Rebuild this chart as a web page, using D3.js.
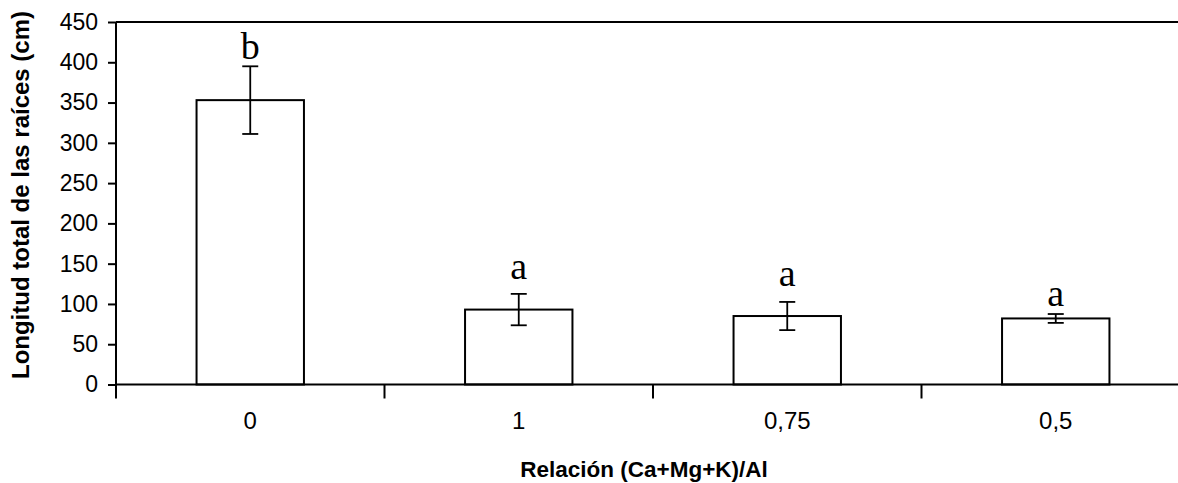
<!DOCTYPE html>
<html><head><meta charset="utf-8">
<script src="https://cdn.jsdelivr.net/npm/d3@7"></script>
<style>body{margin:0;background:#fff}svg{display:block}</style>
</head><body>
<svg id="c" width="1178" height="483"></svg>
<script>
const categories = ["0", "1", "0,75", "0,5"];
const means = [353, 93, 85, 82];
const errors = [42, 19.5, 17.5, 5.5];
const letters = ["b", "a", "a", "a"];
const letterHeights = [404, 131, 122, 98];
const yTicks = [0, 50, 100, 150, 200, 250, 300, 350, 400, 450];

(function () {
const svg = d3.select("#c");
const pLeft = 116, pRight = 1190, pTop = 22, pBottom = 384.5;
const x = d3.scaleBand().domain(categories).range([pLeft, pRight]).paddingInner(0).paddingOuter(0);
const y = d3.scaleLinear().domain([0, 450]).range([pBottom, pTop]);
const barW = x.bandwidth() * 0.4;

// top border
svg.append("line").attr("x1", pLeft).attr("x2", pRight).attr("y1", y(450)).attr("y2", y(450))
  .attr("stroke", "#000").attr("stroke-width", 2);
svg.append("line").attr("x1", pRight).attr("x2", pRight).attr("y1", pTop).attr("y2", pBottom)
  .attr("stroke", "#000").attr("stroke-width", 2);

// bars
svg.selectAll("rect.bar").data(categories).join("rect")
  .attr("x", (d) => x(d) + x.bandwidth() / 2 - barW / 2)
  .attr("y", (d, i) => y(means[i]))
  .attr("width", barW)
  .attr("height", (d, i) => y(0) - y(means[i]))
  .attr("fill", "#fff").attr("stroke", "#000").attr("stroke-width", 2);

// error bars
const capW = 8;
categories.forEach((c, i) => {
  const cx = x(c) + x.bandwidth() / 2;
  const g = svg.append("g").attr("stroke", "#000").attr("stroke-width", 1.8);
  g.append("line").attr("x1", cx).attr("x2", cx).attr("y1", y(means[i] + errors[i])).attr("y2", y(means[i] - errors[i]));
  g.append("line").attr("x1", cx - capW).attr("x2", cx + capW).attr("y1", y(means[i] + errors[i])).attr("y2", y(means[i] + errors[i]));
  g.append("line").attr("x1", cx - capW).attr("x2", cx + capW).attr("y1", y(means[i] - errors[i])).attr("y2", y(means[i] - errors[i]));
  svg.append("text").attr("x", cx).attr("y", y(letterHeights[i]))
    .attr("text-anchor", "middle").attr("font-family", "Liberation Serif, Times New Roman, serif")
    .attr("font-size", 38).attr("fill", "#000").text(letters[i]);
});

// y axis
const yAxis = svg.append("g").attr("transform", `translate(${pLeft},0)`)
  .call(d3.axisLeft(y).tickValues(yTicks).tickSize(8).tickPadding(10).tickFormat(d3.format("d")));
yAxis.select(".domain").attr("stroke-width", 2).attr("d", `M0,${pTop}V${pBottom + 14}`);
yAxis.selectAll(".tick line").attr("stroke-width", 2);
yAxis.selectAll("text").attr("font-family", "Liberation Sans, Arial, sans-serif").attr("font-size", 23).attr("fill", "#000");

// x axis
const xAxis = svg.append("g").attr("transform", `translate(0,${pBottom})`)
  .call(d3.axisBottom(x).tickSize(0).tickPadding(27));
xAxis.select(".domain").attr("stroke-width", 2).attr("d", `M${pLeft},0H${pRight}`);
xAxis.selectAll("text").attr("font-family", "Liberation Sans, Arial, sans-serif").attr("font-size", 24).attr("fill", "#000");
const bounds = categories.map(c => x(c)).concat([pRight]);
xAxis.selectAll("line.sep").data(bounds.slice(1)).join("line").attr("class", "sep")
  .attr("x1", d => d).attr("x2", d => d).attr("y1", 0).attr("y2", 14)
  .attr("stroke", "#000").attr("stroke-width", 2);

// titles
svg.append("text").attr("x", 644).attr("y", 477).attr("text-anchor", "middle")
  .attr("font-family", "Liberation Sans, Arial, sans-serif").attr("font-weight", "bold").attr("font-size", 22.5)
  .text("Relación (Ca+Mg+K)/Al");
svg.append("text").attr("transform", "translate(29,195) rotate(-90)").attr("text-anchor", "middle")
  .attr("font-family", "Liberation Sans, Arial, sans-serif").attr("font-weight", "bold").attr("font-size", 24)
  .text("Longitud total de las raíces (cm)");
})();
</script>
</body></html>
